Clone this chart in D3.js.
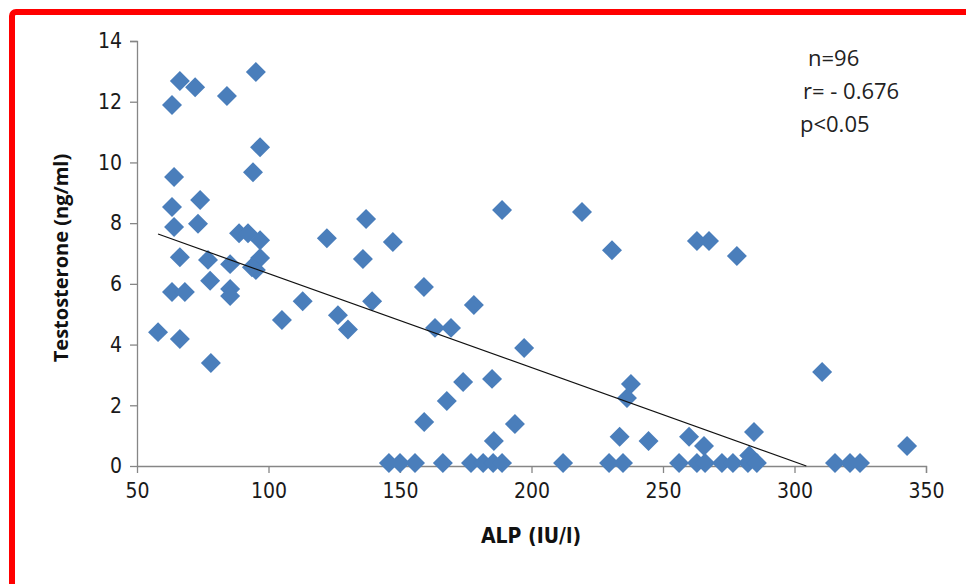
<!DOCTYPE html>
<html>
<head>
<meta charset="utf-8">
<script src="https://cdn.jsdelivr.net/npm/d3@7"></script>
<style>
  html, body { margin: 0; padding: 0; background: #fff; }
  svg { display: block; }
</style>
</head>
<body>
<svg id="chart" width="966" height="584"></svg>
<script>
// ALP (IU/l) values
const alp = [
  58, 63.3, 66.3, 72.1, 84.2, 95.2, 96.8, 94.1, 64.1, 63.3,
  74, 64.1, 73.2, 66.3, 77, 88.8, 92.2, 96.8, 85.4, 96.8,
  95.2, 93.7, 63.3, 68.2, 77.8, 85.4, 85.4, 66.3, 78.1, 105.1,
  113, 122.2, 126.4, 130.2, 135.9, 137.1, 139.4, 147.3, 159.1, 163.3,
  169.4, 178.1, 188.8, 197.2, 219.2, 230.6, 262.9, 267.5, 278.1, 310.5,
  342.8, 174, 167.8, 185, 159.2, 185.7, 193.7, 237.8, 236.3, 233.5,
  244.5, 259.9, 265.6, 284.6, 282.8,
  145.8, 150, 155.7, 166.3, 177, 181.6, 185.4, 188.8, 212, 229.5,
  234.8, 256.1, 262.9, 266, 272.4, 276.6, 282.3, 285.7, 315.4, 321.1, 324.9
];
// Testosterone (ng/ml) values
const testosterone = [
  4.41, 11.89, 12.68, 12.48, 12.19, 12.98, 10.5, 9.68, 9.52, 8.53,
  8.76, 7.87, 7.98, 6.88, 6.79, 7.67, 7.67, 7.44, 6.65, 6.85,
  6.46, 6.55, 5.73, 5.73, 6.1, 5.83, 5.6, 4.18, 3.39, 4.81,
  5.43, 7.5, 4.97, 4.5, 6.82, 8.14, 5.43, 7.38, 5.9, 4.55,
  4.55, 5.3, 8.43, 3.89, 8.37, 7.11, 7.41, 7.41, 6.92, 3.1,
  0.66, 2.77, 2.14, 2.87, 1.45, 0.82, 1.38, 2.7, 2.24, 0.96,
  0.82, 0.96, 0.66, 1.12, 0.35,
  0.1, 0.1, 0.1, 0.1, 0.1, 0.1, 0.1, 0.1, 0.1, 0.1,
  0.1, 0.1, 0.1, 0.1, 0.1, 0.1, 0.1, 0.1, 0.1, 0.1, 0.1
];
const xTicks = [50, 100, 150, 200, 250, 300, 350];
const yTicks = [0, 2, 4, 6, 8, 10, 12, 14];
// Linear trend line: y = intercept + slope * x, drawn over this x range
const trendIntercept = 9.44;
const trendSlope = -0.031;
const trendRange = [58, 304.5];
const statsLines = ["n=96", "r= - 0.676", "p<0.05"];

const svg = d3.select("#chart");
const tickFont = "'Liberation Sans Narrow', 'DejaVu Sans Condensed', sans-serif";

// red frame
svg.append("rect")
  .attr("x", 12).attr("y", 12)
  .attr("width", 1000).attr("height", 640)
  .attr("rx", 4).attr("ry", 4)
  .attr("fill", "none").attr("stroke", "#ff0000").attr("stroke-width", 6);

const x = d3.scaleLinear().domain([50, 350]).range([137, 926]);
const y = d3.scaleLinear().domain([0, 14]).range([466, 41]);

// y axis
const yAxis = svg.append("g").attr("transform", "translate(137,0)")
  .call(d3.axisLeft(y).tickValues(yTicks).tickSize(7).tickPadding(8).tickFormat(d3.format("d")));
yAxis.select(".domain").attr("stroke", "#868686").attr("stroke-width", 1.3).attr("d", "M-7,41.5H0.5V466.5");
yAxis.selectAll(".tick line").attr("stroke", "#868686").attr("stroke-width", 1.3);
yAxis.selectAll(".tick text").attr("font-family", tickFont).attr("font-size", 21).attr("fill", "#1a1a1a");

// x axis
const xAxis = svg.append("g").attr("transform", "translate(0,466)")
  .call(d3.axisBottom(x).tickValues(xTicks).tickSize(7).tickPadding(10).tickFormat(d3.format("d")));
xAxis.select(".domain").attr("stroke", "#868686").attr("stroke-width", 1.3).attr("d", "M137,0.5H926.5V7");
xAxis.selectAll(".tick line").attr("stroke", "#868686").attr("stroke-width", 1.3);
xAxis.selectAll(".tick text").attr("font-family", tickFont).attr("font-size", 21).attr("fill", "#1a1a1a");

// points
const data = alp.map((v, i) => ({ x: v, y: testosterone[i] }));
const diamond = d3.symbol().type(d3.symbolSquare).size(200);
svg.append("g").selectAll("path")
  .data(data).join("path")
  .attr("d", diamond)
  .attr("transform", d => `translate(${x(d.x)},${y(d.y)}) rotate(45)`)
  .attr("fill", "#4a7ebb");

// trend line
svg.append("line")
  .attr("x1", x(trendRange[0])).attr("y1", y(trendIntercept + trendSlope * trendRange[0]))
  .attr("x2", x(trendRange[1])).attr("y2", y(trendIntercept + trendSlope * trendRange[1]))
  .attr("stroke", "#111").attr("stroke-width", 1.2);

// axis titles
svg.append("text")
  .attr("x", 531).attr("y", 543)
  .attr("text-anchor", "middle")
  .attr("font-family", tickFont).attr("font-weight", "bold").attr("font-size", 21)
  .attr("fill", "#111")
  .text("ALP (IU/l)");
svg.append("text")
  .attr("transform", "translate(68,258) rotate(-90)")
  .attr("text-anchor", "middle")
  .attr("font-family", "'Open Sans', 'DejaVu Sans', sans-serif").attr("font-weight", "bold").attr("font-size", 20)
  .attr("fill", "#111")
  .text("Testosterone (ng/ml)");

// stats annotation
const statX = [808, 803, 800];
const statY = [66, 99, 132];
svg.append("g").selectAll("text")
  .data(statsLines).join("text")
  .attr("x", (d, i) => statX[i]).attr("y", (d, i) => statY[i])
  .attr("font-family", "'Open Sans', sans-serif").attr("font-size", 22)
  .attr("fill", "#222")
  .text(d => d);
</script>
</body>
</html>
